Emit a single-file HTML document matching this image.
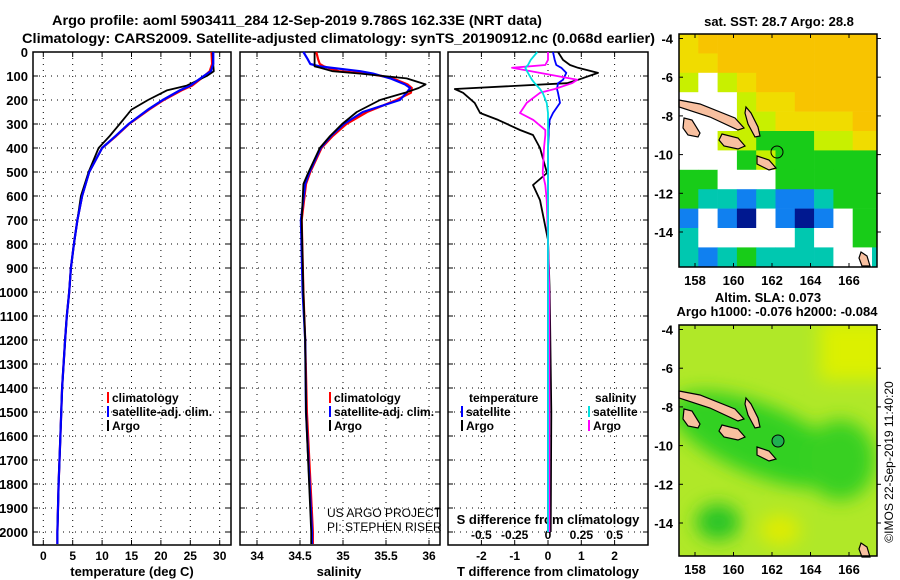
<!DOCTYPE html>
<html><head><meta charset="utf-8"><style>
html,body{margin:0;padding:0;background:#fff;}
svg{display:block;font-family:"Liberation Sans",sans-serif;font-weight:bold;}
</style></head><body>
<svg id="chart" width="900" height="580" viewBox="0 0 900 580" xmlns="http://www.w3.org/2000/svg">
<text x="52" y="25" font-size="14" textLength="490" lengthAdjust="spacingAndGlyphs">Argo profile: aoml 5903411_284 12-Sep-2019 9.786S 162.33E (NRT data)</text>
<text x="22" y="43" font-size="14" textLength="633" lengthAdjust="spacingAndGlyphs">Climatology: CARS2009. Satellite-adjusted climatology: synTS_20190912.nc (0.068d earlier)</text>
<text x="779" y="26" font-size="13" text-anchor="middle">sat. SST: 28.7 Argo: 28.8</text>
<text x="768" y="302" font-size="13" text-anchor="middle">Altim. SLA: 0.073</text>
<text x="777" y="316" font-size="13" text-anchor="middle">Argo h1000: -0.076 h2000: -0.084</text>
<text transform="translate(893,462) rotate(-90)" font-size="12" font-weight="normal" text-anchor="middle">©IMOS 22-Sep-2019 11:40:20</text>
<g id="plots"></g>
<g id="maps"></g>
</svg>
<script>
// ---- profile data ----
const tDepth = [0, 50, 80, 100, 140, 160, 200, 240, 300, 350, 400, 500, 600, 700, 800, 900, 1000, 1100, 1200, 1400, 1600, 1800, 2000, 2050];
const tArgo  = [28.8, 28.9, 29.0, 27.8, 24.4, 21.0, 17.8, 15.0, 13.0, 11.3, 9.4, 7.7, 6.4, 5.8, 5.2, 4.7, 4.4, 4.0, 3.7, 3.2, 2.9, 2.6, 2.4, 2.4];
const tClim  = [28.6, 28.7, 28.3, 27.4, 25.3, 23.5, 20.5, 18.0, 14.6, 12.4, 10.0, 7.8, 6.6, 5.8, 5.2, 4.7, 4.4, 4.0, 3.7, 3.2, 2.9, 2.6, 2.4, 2.4];
const tSat   = [28.9, 28.9, 28.5, 27.3, 25.0, 23.2, 20.3, 17.8, 14.5, 12.3, 10.0, 7.8, 6.6, 5.8, 5.2, 4.7, 4.4, 4.0, 3.7, 3.2, 2.9, 2.6, 2.4, 2.4];
const sDepth = [0, 30, 50, 60, 65, 80, 90, 100, 110, 135, 150, 170, 200, 250, 300, 350, 400, 500, 550, 700, 1000, 1200, 1500, 2000, 2050];
const sArgo  = [34.67, 34.67, 34.67, 34.67, 34.73, 34.88, 35.2, 35.47, 35.74, 35.96, 35.88, 35.72, 35.43, 35.16, 34.99, 34.85, 34.73, 34.6, 34.54, 34.52, 34.54, 34.56, 34.57, 34.63, 34.63];
const sClim  = [34.69, 34.71, 34.73, 34.78, 34.82, 34.95, 35.28, 35.45, 35.58, 35.75, 35.8, 35.79, 35.62, 35.28, 35.04, 34.88, 34.75, 34.62, 34.57, 34.52, 34.54, 34.56, 34.58, 34.65, 34.65];
const sSat   = [34.54, 34.59, 34.62, 34.73, 34.85, 35.2, 35.35, 35.45, 35.55, 35.72, 35.78, 35.74, 35.66, 35.23, 35.01, 34.86, 34.74, 34.61, 34.56, 34.51, 34.53, 34.56, 34.57, 34.64, 34.64];
const dDepth = [0, 33, 54, 66, 87, 116, 130, 154, 170, 212, 254, 283, 325, 346, 400, 504, 554, 617, 783, 1000, 1500, 2000];
const dTArgo = [0.3, 0.45, 0.66, 0.9, 1.5, 0.9, 0.57, -2.8, -2.55, -2.2, -2.04, -1.5, -0.84, -0.45, -0.24, -0.03, -0.45, -0.24, 0.0, 0.05, 0.1, 0.08];
const dTSat  = [0.15, 0.2, 0.25, 0.4, 0.55, 0.45, 0.3, 0.27, 0.3, 0.36, 0.15, 0.05, 0.02, 0.02, 0.0, 0.0, 0.0, 0.0, 0.0, 0.0, 0.0, 0.0];
const dSArgo = [0.0, 0.0, -0.02, -0.27, -0.06, 0.22, 0.18, 0.05, -0.06, -0.16, -0.21, -0.11, -0.02, -0.02, -0.03, -0.04, -0.02, -0.01, 0.0, 0.01, 0.01, 0.01];
const dSSat  = [-0.08, -0.13, -0.15, -0.17, -0.15, -0.12, -0.1, -0.06, -0.04, -0.01, 0.0, 0.0, 0.0, 0.0, 0.0, 0.0, 0.0, 0.0, 0.0, 0.0, 0.0, 0.0];
const depthTicks = [0,100,200,300,400,500,600,700,800,900,1000,1100,1200,1300,1400,1500,1600,1700,1800,1900,2000];
const tTicks = [0,5,10,15,20,25,30];
const sTicks = [34,34.5,35,35.5,36];
const dTTicks = [-2,-1,0,1,2];
const dSTicks = [-0.5,-0.25,0,0.25,0.5];
const dSTickLabels = ["-0.5","-0.25","0","0.25","0.5"];

const NS='http://www.w3.org/2000/svg';
const plots=document.getElementById('plots');
function mk(tag,attrs,parent){const e=document.createElementNS(NS,tag);for(const k in attrs)e.setAttribute(k,attrs[k]);(parent||plots).appendChild(e);return e;}
const yD = d => 52 + d*0.24;
const PTOP=52, PBOT=545;
const xT = v => 43.3 + v*5.88;
const xS = v => 257 + (v-34)*86;
const xDT = v => 548 + v*33.3;
const xDS = v => 548 + v*133.3;

function panel(x0,x1,name,gridXs){
  const g=mk('g',{});
  
  
  gridXs.forEach(x=>{const l=mk('line',{x1:x,x2:x,y1:PTOP,y2:PBOT,stroke:'#000','stroke-width':1,'stroke-dasharray':'1 5'},g);
    });
  depthTicks.forEach(d=>{if(d===0)return;const l=mk('line',{x1:x0,x2:x1,y1:yD(d),y2:yD(d),stroke:'#000','stroke-width':1,'stroke-dasharray':'1 5'},g);
    
    mk('line',{x1:x0,x2:x0+5,y1:yD(d),y2:yD(d),stroke:'#000'},g);mk('line',{x1:x1-5,x2:x1,y1:yD(d),y2:yD(d),stroke:'#000'},g);});
  gridXs.forEach(x=>{mk('line',{x1:x,x2:x,y1:PTOP,y2:PTOP+5,stroke:'#000'},g);mk('line',{x1:x,x2:x,y1:PBOT-5,y2:PBOT,stroke:'#000'},g);});
  const r=mk('rect',{x:x0,y:PTOP,width:x1-x0,height:PBOT-PTOP,fill:'none',stroke:'#000','stroke-width':1.5},g);
  
  return g;
}
function line(xs,ds,xf,color,name,w){
  const pts=xs.map((v,i)=>xf(v).toFixed(1)+','+yD(ds[i]).toFixed(1)).join(' ');
  const p=mk('polyline',{points:pts,fill:'none',stroke:color,'stroke-width':w||2.2,'stroke-linejoin':'round'});
  
  
}
function txt(x,y,s,opts,name){const t=mk('text',Object.assign({x:x,y:y,'font-size':13},opts||{}));t.textContent=s;
  
  return t;}

depthTicks.forEach(d=>txt(28,yD(d)+5,String(d),{'text-anchor':'end'},'depth-tick-label'));

panel(33,231,'temperature-panel',tTicks.map(xT));
tTicks.forEach(v=>txt(xT(v),560,String(v),{'text-anchor':'middle','font-size':12},'temp-tick-label'));
txt(132,576,'temperature (deg C)',{'text-anchor':'middle'},'temp-axis-title');
line(tClim,tDepth,xT,'#ff0000','temp-climatology-line');
line(tSat,tDepth,xT,'#0000ff','temp-satellite-line');
line(tArgo,tDepth,xT,'#000000','temp-argo-line',1.8);
line(tSat,tDepth,xT,'#0000ff','temp-satellite-line-top',2);

panel(240,440,'salinity-panel',sTicks.map(xS));
sTicks.forEach(v=>txt(xS(v),560,String(v),{'text-anchor':'middle','font-size':12},'salinity-tick-label'));
txt(339,576,'salinity',{'text-anchor':'middle'},'salinity-axis-title');
line(sClim,sDepth,xS,'#ff0000','salinity-climatology-line');
line(sSat,sDepth,xS,'#0000ff','salinity-satellite-line');
line(sArgo,sDepth,xS,'#000000','salinity-argo-line',1.8);

panel(448,648,'difference-panel',dTTicks.map(xDT));
dTTicks.forEach(v=>txt(xDT(v),560,String(v),{'text-anchor':'middle','font-size':12},'tdiff-tick-label'));
txt(548,576,'T difference from climatology',{'text-anchor':'middle'},'tdiff-axis-title');
txt(548,524,'S difference from climatology',{'text-anchor':'middle'},'sdiff-axis-title');
dSTicks.forEach((v,i)=>txt(xDS(v),539,dSTickLabels[i],{'text-anchor':'middle','font-size':12},'sdiff-tick-label'));
line(dTArgo,dDepth,xDT,'#000000','tdiff-argo-line',1.8);
line(dTSat,dDepth,xDT,'#0000ff','tdiff-satellite-line',1.8);
line(dSArgo,dDepth,xDS,'#ff00ff','sdiff-argo-line',1.8);
line(dSSat,dDepth,xDS,'#00e0e0','sdiff-satellite-line',1.8);

function legend(x,y,color,label,name){
  const r=mk('rect',{x:x,y:y-10,width:2,height:11,fill:color});
  
  txt(x+5,y,label,{'font-size':12},name);
}
legend(107,402,'#ff0000','climatology','legend-climatology');
legend(107,416,'#0000ff','satellite-adj. clim.','legend-satellite');
legend(107,430,'#000000','Argo','legend-argo');
legend(329,402,'#ff0000','climatology','legend-climatology-2');
legend(329,416,'#0000ff','satellite-adj. clim.','legend-satellite-2');
legend(329,430,'#000000','Argo','legend-argo-2');
txt(469,402,'temperature',{'font-size':12},'legend-temperature-heading');
txt(595,402,'salinity',{'font-size':12},'legend-salinity-heading');
legend(461,416,'#0000ff','satellite','legend-t-satellite');
legend(461,430,'#000000','Argo','legend-t-argo');
legend(588,416,'#00e0e0','satellite','legend-s-satellite');
legend(588,430,'#ff00ff','Argo','legend-s-argo');
txt(327,517,'US ARGO PROJECT',{'font-size':12,'font-weight':'normal'},'project-credit');
txt(327,531,'PI: STEPHEN RISER',{'font-size':12,'font-weight':'normal'},'pi-credit');

// ---- maps ----
const maps=document.getElementById('maps');
const sstRows = [
 "YOOOOOOOOOO",
 "YYOOOOOOOOO",
 "LWLYOOOOOOO",
 "WWWLYYOOOOO",
 "WWWLLYYYYOO",
 "WWLLGGGLLYY",
 "WWWGLGGGGGG",
 "GGWWWGGGGGG",
 "GCCBCBBCGGG",
 "BWBKWBKBWGG",
 "CWWWWWCWWGG",
 "CBCGCCCCWWC"
];
const sstColors={O:'#f8c400',Y:'#f0dc00',L:'#c8f000',G:'#18cc18',C:'#00c8b0',B:'#1080f0',K:'#001890',W:'#ffffff'};
function mapFrame(name){
  const g=document.createElementNS(NS,'g');maps.appendChild(g);
  
  
  return g;
}
const g1=mapFrame('sst-map');
sstRows.forEach((row,r)=>{[...row].forEach((c,k)=>{
  mk('rect',{x:679+k*19.3,y:34+r*19.4,width:19.6,height:19.7,fill:sstColors[c]},g1);});});
mk('rect',{x:877,y:30,width:15,height:240,fill:'#fff'},g1);
const g2=mapFrame('sla-map');
mk('defs',{},g2).innerHTML='<filter id="bl"><feGaussianBlur stdDeviation="9"/></filter><clipPath id="cp"><rect x="679" y="325" width="198" height="231"/></clipPath>';
const gg=mk('g',{'clip-path':'url(#cp)'},g2);
mk('rect',{x:679,y:325,width:198,height:231,fill:'#b0e828'},gg);
const gb=mk('g',{filter:'url(#bl)'},gg);
mk('rect',{x:820,y:320,width:70,height:60,fill:'#dcf000'},gb);
mk('ellipse',{cx:760,cy:440,rx:95,ry:35,fill:'#30d020',transform:'rotate(22 760 440)'},gb);
mk('ellipse',{cx:840,cy:460,rx:35,ry:40,fill:'#38d020'},gb);
mk('ellipse',{cx:718,cy:522,rx:22,ry:18,fill:'#28c428'},gb);
mk('ellipse',{cx:780,cy:530,rx:20,ry:15,fill:'#e0ec00'},gb);

function land(dy){
  const shapes=[
   'M679,100 L700,104 L735,118 L744,128 L738,130 L710,117 L679,107 Z',
   'M684,118 L692,120 L700,133 L698,137 L688,135 L683,128 Z',
   'M722,134 L738,138 L745,146 L738,149 L724,146 L719,140 Z',
   'M746,107 L751,113 L758,127 L760,136 L755,137 L748,124 L745,113 Z',
   'M757,156 L769,160 L776,168 L769,170 L757,164 Z',
   'M861,252 L867,256 L870,266 L862,266 L859,258 Z'
  ];
  shapes.forEach(d=>{const p=mk('path',{d:d,transform:'translate(0,'+dy+')',fill:'#f8c0a0',stroke:'#000','stroke-width':1.2},maps);
    });
}
land(0);land(291);
const c1=mk('circle',{cx:777,cy:152,r:6,fill:'none',stroke:'#000','stroke-width':1},maps);

const c2=mk('circle',{cx:778,cy:441,r:6,fill:'#20b050',stroke:'#000','stroke-width':1},maps);


const lonTicks=[158,160,162,164,166];
const latTicks=[-4,-6,-8,-10,-12,-14];
function axes(y0,y1,name){
  const r=mk('rect',{x:679,y:y0,width:198,height:y1-y0,fill:'none',stroke:'#000','stroke-width':1.5},maps);
  
  lonTicks.forEach(l=>{const x=695+(l-158)*19.25;
    mk('line',{x1:x,x2:x,y1:y1,y2:y1-4,stroke:'#000'},maps);mk('line',{x1:x,x2:x,y1:y0,y2:y0+4,stroke:'#000'},maps);
    const t=mk('text',{x:x,y:y1+18,'font-size':13,'text-anchor':'middle'},maps);t.textContent=String(l);
    });
  latTicks.forEach(l=>{const y=y0+4.5+(-4-l)*19.35;
    mk('line',{x1:877,x2:881,y1:y,y2:y,stroke:'#000'},maps);mk('line',{x1:679,x2:683,y1:y,y2:y,stroke:'#000'},maps);
    const t=mk('text',{x:673,y:y+5,'font-size':13,'text-anchor':'end'},maps);t.textContent=String(l);
    });
}
axes(34,267,'sst-map');
axes(325,556,'sla-map');
</script>
</body></html>
